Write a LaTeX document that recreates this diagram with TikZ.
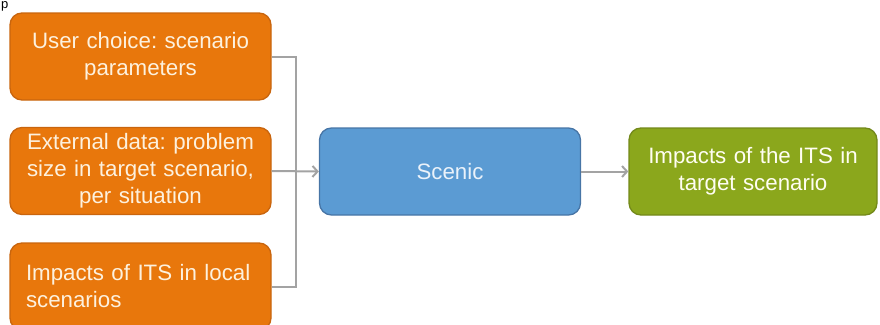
\documentclass[tikz,border=0pt]{standalone}
\usepackage{fontspec}
\setmainfont{Liberation Sans}
\usetikzlibrary{arrows.meta}
\frenchspacing
\definecolor{boxorange}{HTML}{E8770C}
\definecolor{edgeorange}{HTML}{C9650E}
\definecolor{txtorange}{HTML}{FDF1DE}
\definecolor{boxblue}{HTML}{5B9BD3}
\definecolor{edgeblue}{HTML}{4775A6}
\definecolor{txtblue}{HTML}{EAF2FA}
\definecolor{boxgreen}{HTML}{8BA71C}
\definecolor{edgegreen}{HTML}{73891A}
\definecolor{linkgray}{HTML}{A3A3A3}
\tikzset{
  card/.style={rounded corners=12pt, line width=1.3pt, minimum width=261pt,
    minimum height=87pt, inner sep=0pt, font=\fontsize{22.3}{27}\selectfont},
  inputcard/.style={card, draw=edgeorange, fill=boxorange, text=txtorange},
  modelcard/.style={card, draw=edgeblue, fill=boxblue, text=txtblue},
  resultcard/.style={card, draw=edgegreen, fill=boxgreen, text=white!95!yellow},
  link/.style={draw=linkgray, line width=2pt},
  linkarrow/.style={link, -{Straight Barb[length=5pt,width=11pt,line width=2pt]}}
}
\begin{document}
\begin{tikzpicture}[x=1pt,y=-1pt]
  \useasboundingbox (0,0) rectangle (880,324);
  \begin{scope}
    \clip (0,0) rectangle (880,324);
    % fragment of a caption line above the diagram
    \node[anchor=base west, inner sep=0pt, font=\fontsize{13}{16}\selectfont] (frag) at (1,8.5) {p};
    % input boxes
    \node[inputcard, align=center, text width=245pt] (user) at (140.5,56.5)
      {User choice: scenario\\parameters};
    \node[inputcard, align=center, text width=245pt] (ext) at (140.5,171)
      {External data: problem\\size in target scenario,\\per situation};
    \node[inputcard, align=left, text width=229pt] (local) at (140.5,286.5)
      {Impacts of ITS in local\\scenarios};
    % model and result
    \node[modelcard] (scenic) at (450,171.5) {Scenic};
    \node[resultcard, minimum width=248pt, align=center, text width=240pt] (impact) at (753,171.5)
      {Impacts of the ITS in\\target scenario};
    % connectors
    \coordinate (jtop) at (296,57);
    \coordinate (jbot) at (296,286.5);
    \draw[link] (user.east |- jtop) -- (jtop) -- (jbot) -- (local.east |- jbot);
    \draw[linkarrow] (ext.east) -- (scenic.west);
    \draw[linkarrow] (scenic.east) -- (impact.west);
  \end{scope}
\end{tikzpicture}
\end{document}
